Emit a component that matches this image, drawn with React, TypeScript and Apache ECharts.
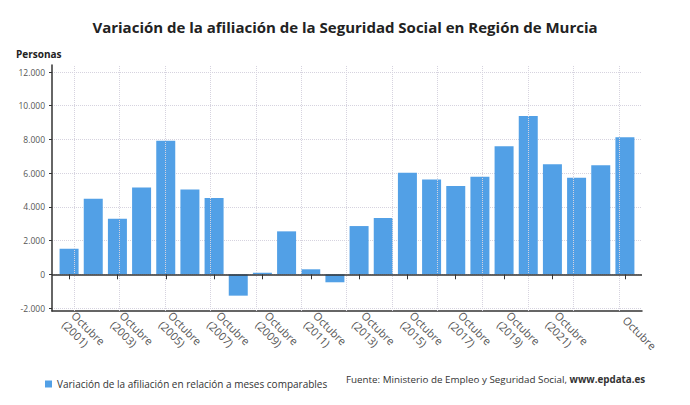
import React, { useEffect, useRef } from "react";
import * as echarts from "echarts";

const CATEGORIES = [
  "Octubre (2001)", "Octubre (2002)", "Octubre (2003)", "Octubre (2004)",
  "Octubre (2005)", "Octubre (2006)", "Octubre (2007)", "Octubre (2008)",
  "Octubre (2009)", "Octubre (2010)", "Octubre (2011)", "Octubre (2012)",
  "Octubre (2013)", "Octubre (2014)", "Octubre (2015)", "Octubre (2016)",
  "Octubre (2017)", "Octubre (2018)", "Octubre (2019)", "Octubre (2020)",
  "Octubre (2021)", "Octubre (2022)", "Octubre (2023)", "Octubre",
];

const VALUES = [
  1517, 4479, 3294, 5154, 7915, 5036, 4520, -1268, 95, 2547, 296, -474,
  2861, 3335, 6019, 5628, 5231, 5782, 7601, 9396, 6534, 5723, 6475, 8134,
];

const Y_MIN = -2000;
const Y_MAX = 12000;
const Y_STEP = 2000;

const SERIES_NAME = "Variación de la afiliación en relación a meses comparables";
const TITLE = "Variación de la afiliación de la Seguridad Social en Región de Murcia";
const UNIT = "Personas";
const SOURCE = "Fuente: Ministerio de Empleo y Seguridad Social, ";
const SOURCE_LINK = "www.epdata.es";

// vertical grid line positions on the decorative frame axis (0..13)
const VGRID = [0.49, 1.49, 2.49, 3.49, 4.49, 5.49, 6.49, 7.49, 8.49, 9.49, 10.49, 11.49, 12.49];

const FONT = "'Open Sans', 'Noto Sans', sans-serif";
const BAR = "#52a0e6";
const GRIDC = "#d6d3df";
const AXISC = "#333333";

const showLabel = (i: number) => (i % 2 === 0 && i <= 20) || i === CATEGORIES.length - 1;

export default function App() {
  const ref = useRef<HTMLDivElement>(null);
  useEffect(() => {
    if (!ref.current) return;
    const chart = echarts.init(ref.current, null, { renderer: "svg" });
    const pxPerUnit = 236 / (Y_MAX - Y_MIN);
    const frameMin = Y_MIN - 3 / pxPerUnit;
    const frameMax = Y_MAX + 7 / pxPerUnit;
    chart.setOption({
      animation: false,
      backgroundColor: "#ffffff",
      textStyle: { fontFamily: FONT },
      title: [
        {
          text: TITLE,
          left: "center",
          top: 14,
          textStyle: { fontFamily: FONT, fontSize: 15, fontWeight: "bold", color: "#222" },
        },
        {
          text: UNIT,
          left: 11,
          top: 44,
          textStyle: { fontFamily: FONT, fontSize: 10, fontWeight: "bold", color: "#222" },
        },
      ],
      legend: {
        left: 40,
        top: 374,
        icon: "rect",
        itemWidth: 7,
        itemHeight: 7,
        itemGap: 4,
        textStyle: { fontFamily: FONT, fontSize: 10, color: "#333" },
        data: [SERIES_NAME],
      },
      graphic: [
        {
          type: "text",
          left: 346,
          top: 374,
          style: {
            text: SOURCE + "{b|" + SOURCE_LINK + "}",
            font: "9.8px " + FONT,
            fill: "#333",
            rich: { b: { fontWeight: "bold", fontSize: 9.8, fontFamily: FONT, fill: "#333" } },
          },
        },
      ],
      grid: [
        { left: 52, right: 48, top: 72, bottom: 97 },
        { left: 52, right: 48, top: 65, bottom: 94 },
        { left: 57, right: 53, top: 72, bottom: 97 },
      ],
      xAxis: [
        { type: "value", gridIndex: 0, min: 0, max: 1, show: false },
        {
          type: "value",
          gridIndex: 1,
          min: 0,
          max: 13,
          axisLine: { show: true, onZero: false, lineStyle: { color: AXISC, width: 1.5 } },
          axisTick: { show: false },
          axisLabel: { show: false },
          splitLine: { show: false },
        },
        {
          type: "category",
          gridIndex: 2,
          data: CATEGORIES,
          offset: 3,
          axisLine: { show: false },
          axisTick: { show: true, interval: (i: number) => showLabel(i), alignWithLabel: true, length: 5, lineStyle: { color: AXISC } },
          axisLabel: {
            interval: (i: number) => showLabel(i),
            rotate: -45,
            margin: 7,
            fontFamily: FONT,
            fontSize: 11,
            color: "#555",
            lineHeight: 13,
            formatter: (v: string) => v.replace(" (", "\n("),
          },
          splitLine: { show: false },
        },
      ],
      yAxis: [
        {
          type: "value",
          gridIndex: 0,
          min: Y_MIN,
          max: Y_MAX,
          interval: Y_STEP,
          axisLine: { show: false },
          axisTick: { show: true, length: 3, lineStyle: { color: AXISC } },
          axisLabel: {
            fontFamily: FONT,
            fontSize: 8.5,
            color: "#555",
            margin: 7,
            formatter: (v: number) => v.toLocaleString("de-DE"),
          },
          splitLine: { show: true, lineStyle: { color: GRIDC, type: "dotted", width: 1 } },
        },
        {
          type: "value",
          gridIndex: 1,
          min: frameMin,
          max: frameMax,
          axisLine: { show: true, onZero: false, lineStyle: { color: AXISC, width: 1.5 } },
          axisTick: { show: false },
          axisLabel: { show: false },
          splitLine: { show: false },
        },
        {
          type: "value",
          gridIndex: 2,
          min: Y_MIN,
          max: Y_MAX,
          interval: Y_STEP,
          show: false,
        },
      ],
      series: [
        {
          type: "line",
          xAxisIndex: 1,
          yAxisIndex: 1,
          data: [],
          silent: true,
          z: 1,
          markLine: {
            silent: true,
            symbol: ["none", "none"],
            label: { show: false },
            animation: false,
            data: VGRID.map((x) => ({ xAxis: x, lineStyle: { color: GRIDC, type: "dotted", width: 1 } })),
          },
        },
        {
          name: SERIES_NAME,
          type: "bar",
          xAxisIndex: 2,
          yAxisIndex: 2,
          data: VALUES,
          barWidth: 19,
          itemStyle: { color: BAR },
          z: 3,
        },
        {
          type: "line",
          xAxisIndex: 1,
          yAxisIndex: 1,
          data: [],
          silent: true,
          z: 5,
          markLine: {
            silent: true,
            symbol: ["none", "none"],
            label: { show: false },
            animation: false,
            data: [{ yAxis: 0, lineStyle: { color: AXISC, type: "solid", width: 1.5 } }],
          },
        },
      ],
    });
    return () => chart.dispose();
  }, []);
  return (
    <div
      ref={ref}
      style={{ position: "fixed", left: 0, top: 0, width: 690, height: 405 }}
    />
  );
}
